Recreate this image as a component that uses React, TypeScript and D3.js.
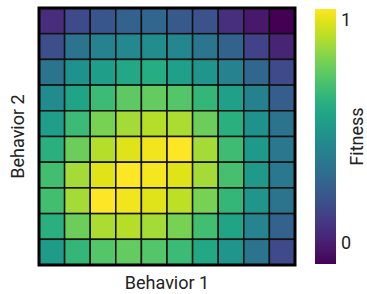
import React, { useEffect, useRef } from 'react';
import * as d3 from 'd3';

// fitness grid, rows top -> bottom (Behavior 2 high -> low), cols Behavior 1 low -> high
const row0 = [0.05, 0.16, 0.21, 0.26, 0.28, 0.22, 0.19, 0.06, -0.02, -0.1];
const row1 = [0.18, 0.34, 0.41, 0.44, 0.46, 0.43, 0.35, 0.26, 0.13, 0.02];
const row2 = [0.34, 0.48, 0.54, 0.59, 0.61, 0.55, 0.5, 0.41, 0.28, 0.16];
const row3 = [0.45, 0.57, 0.68, 0.76, 0.77, 0.74, 0.66, 0.55, 0.4, 0.24];
const row4 = [0.54, 0.68, 0.81, 0.89, 0.92, 0.9, 0.79, 0.63, 0.48, 0.34];
const row5 = [0.63, 0.79, 0.92, 0.99, 1.02, 1.045, 0.89, 0.69, 0.52, 0.36];
const row6 = [0.7, 0.89, 0.99, 1.045, 1.03, 0.99, 0.89, 0.71, 0.52, 0.36];
const row7 = [0.7, 0.89, 1.045, 1.02, 0.99, 0.93, 0.81, 0.66, 0.5, 0.34];
const row8 = [0.63, 0.79, 0.9, 0.92, 0.89, 0.81, 0.7, 0.57, 0.42, 0.26];
const row9 = [0.53, 0.66, 0.74, 0.77, 0.74, 0.68, 0.59, 0.5, 0.34, 0.16];
const rows = [row0, row1, row2, row3, row4, row5, row6, row7, row8, row9];

const colorRange = [-0.095, 1.045];
const tickValues = [0, 1];

const xLabel = 'Behavior 1';
const yLabel = 'Behavior 2';
const cbLabel = 'Fitness';

export default function App() {
    const ref = useRef<SVGSVGElement>(null);

    useEffect(() => {
        const svg = d3.select(ref.current);
        svg.selectAll('*').remove();

        const font = 'Roboto, sans-serif';
        const grid = { left: 39, top: 8, width: 256, height: 257 };
        const nCols = rows[0].length;
        const nRows = rows.length;

        const x = d3.scaleBand<number>().domain(d3.range(nCols)).range([grid.left, grid.left + grid.width]);
        const y = d3.scaleBand<number>().domain(d3.range(nRows)).range([grid.top, grid.top + grid.height]);
        const color = d3.scaleSequential(d3.interpolateViridis).domain(colorRange);

        const cells = rows.flatMap((r, i) => r.map((v, j) => ({ i, j, v })));

        svg.append('g')
            .selectAll('rect')
            .data(cells)
            .enter()
            .append('rect')
            .attr('x', (d) => x(d.j)!)
            .attr('y', (d) => y(d.i)!)
            .attr('width', x.bandwidth())
            .attr('height', y.bandwidth())
            .attr('fill', (d) => color(d.v))
            .attr('stroke', '#111')
            .attr('stroke-width', 1.5);

        // outer frame
        svg.append('rect')
            .attr('x', grid.left)
            .attr('y', grid.top)
            .attr('width', grid.width)
            .attr('height', grid.height)
            .attr('fill', 'none')
            .attr('stroke', '#000')
            .attr('stroke-width', 3);

        svg.append('text')
            .attr('x', grid.left + grid.width / 2)
            .attr('y', 289)
            .attr('text-anchor', 'middle')
            .style('font-family', font)
            .style('font-size', '18px')
            .attr('fill', '#222')
            .text(xLabel);

        svg.append('text')
            .attr('transform', `translate(24, ${grid.top + grid.height / 2}) rotate(-90)`)
            .attr('text-anchor', 'middle')
            .style('font-family', font)
            .style('font-size', '18px')
            .attr('fill', '#222')
            .text(yLabel);

        // colorbar
        const cb = { left: 315, top: 9, width: 21, height: 255 };
        const cbScale = d3.scaleLinear().domain(colorRange).range([cb.top + cb.height, cb.top]);

        const grad = svg.append('defs')
            .append('linearGradient')
            .attr('id', 'cbgrad')
            .attr('x1', 0).attr('y1', 1).attr('x2', 0).attr('y2', 0);
        grad.selectAll('stop')
            .data(d3.range(0, 1.0001, 0.02))
            .enter()
            .append('stop')
            .attr('offset', (d) => d)
            .attr('stop-color', (d) => d3.interpolateViridis(d));

        svg.append('rect')
            .attr('x', cb.left)
            .attr('y', cb.top)
            .attr('width', cb.width)
            .attr('height', cb.height)
            .attr('fill', 'url(#cbgrad)');

        svg.append('g')
            .selectAll('text')
            .data(tickValues)
            .enter()
            .append('text')
            .attr('x', cb.left + cb.width + 5)
            .attr('y', (d) => cbScale(d))
            .attr('dy', '0.36em')
            .style('font-family', font)
            .style('font-size', '18px')
            .attr('fill', '#222')
            .text((d) => d);

        svg.append('text')
            .attr('transform', `translate(363, ${cb.top + cb.height / 2}) rotate(-90)`)
            .attr('text-anchor', 'middle')
            .style('font-family', font)
            .style('font-size', '18px')
            .attr('fill', '#222')
            .text(cbLabel);
    }, []);

    return (
        <svg
            ref={ref}
            width={367}
            height={294}
            style={{ position: 'absolute', left: 0, top: 0, background: '#fff' }}
        />
    );
}
